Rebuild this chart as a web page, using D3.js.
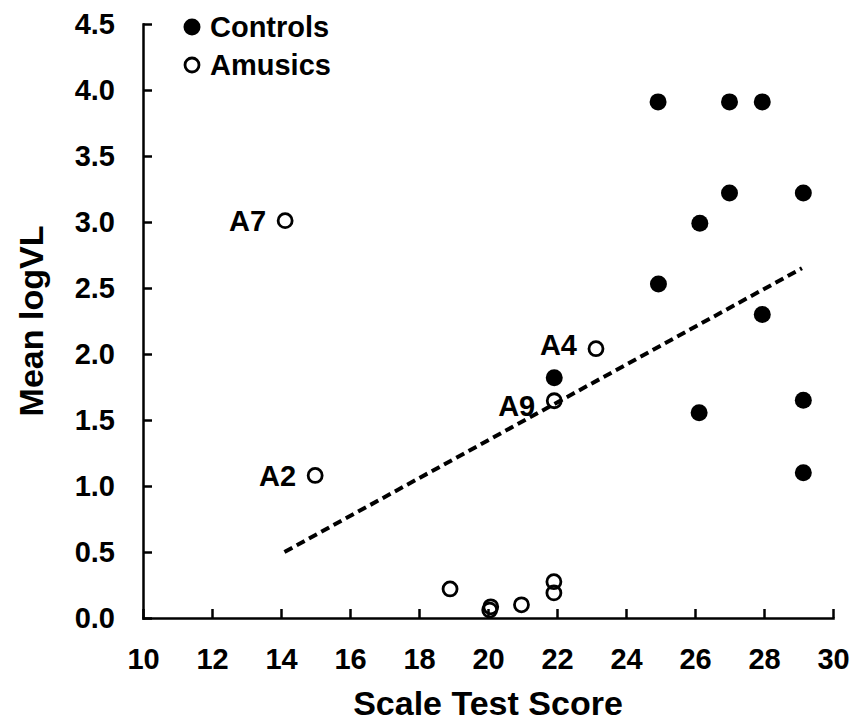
<!DOCTYPE html>
<html>
<head>
<meta charset="utf-8">
<script src="https://cdn.jsdelivr.net/npm/d3@7"></script>
<style>
  body { margin: 0; background: #fff; }
  text { font-family: "Liberation Sans", Arial, sans-serif; font-weight: bold; fill: #000; }
</style>
</head>
<body>
<div id="chart"></div>
<script>
// data
const seriesNames = ['Controls', 'Amusics'];

const controlsX = [24.93, 27.0, 27.95, 27.0, 29.14, 26.14, 24.94, 27.95, 21.92, 26.12, 29.14, 29.14];
const controlsY = [3.91, 3.91, 3.91, 3.22, 3.22, 2.99, 2.53, 2.30, 1.82, 1.555, 1.65, 1.10];

const amusicsX = [14.12, 14.99, 23.13, 21.92, 18.9, 20.08, 20.05, 20.97, 21.91, 21.91];
const amusicsY = [3.01, 1.08, 2.04, 1.646, 0.22, 0.085, 0.06, 0.10, 0.275, 0.19];
const amusicsLabel = ['A7', 'A2', 'A4', 'A9', '', '', '', '', '', ''];

const trendX = [14.1, 29.1];
const trendY = [0.50, 2.65];

const xTicks = [10, 12, 14, 16, 18, 20, 22, 24, 26, 28, 30];
const yTicks = [0, 0.5, 1, 1.5, 2, 2.5, 3, 3.5, 4, 4.5];

const xTitle = 'Scale Test Score';
const yTitle = 'Mean logVL';

function scatter() {
  const width = 855, height = 724;
  const margin = {top: 24, right: 22, bottom: 106, left: 143};

  const svg = d3.select('#chart').append('svg')
      .attr('width', width)
      .attr('height', height);

  const x = d3.scaleLinear()
      .domain([10, 30])
      .range([margin.left, width - margin.right]);

  const y = d3.scaleLinear()
      .domain([0, 4.5])
      .range([height - margin.bottom, margin.top]);

  // axes, ticks pointing inward
  svg.append('g')
      .attr('transform', `translate(0,${y(0)})`)
      .call(d3.axisBottom(x).tickValues(xTicks).tickSize(-9).tickSizeOuter(0).tickPadding(30))
      .call(g => g.selectAll('path, line').attr('stroke', '#000').attr('stroke-width', 2.5))
      .call(g => g.selectAll('text')
          .attr('font-size', 29)
          .attr('font-family', null)
          .attr('dy', '0.71em')
          .attr('y', 30));

  svg.append('g')
      .attr('transform', `translate(${x(10)},0)`)
      .call(d3.axisLeft(y).tickValues(yTicks).tickFormat(d3.format('.1f')).tickSize(-9).tickSizeOuter(0))
      .call(g => g.selectAll('path, line').attr('stroke', '#000').attr('stroke-width', 2.5))
      .call(g => g.selectAll('text')
          .attr('font-size', 29)
          .attr('font-family', null)
          .attr('x', -28));

  svg.selectAll('.domain').attr('stroke-linecap', 'square');

  // axis titles
  svg.append('text')
      .attr('x', (x(10) + x(30)) / 2)
      .attr('y', 715)
      .attr('text-anchor', 'middle')
      .attr('font-size', 34)
      .text(xTitle);

  svg.append('text')
      .attr('transform', `translate(43,${(y(0) + y(4.5)) / 2}) rotate(-90)`)
      .attr('text-anchor', 'middle')
      .attr('font-size', 34)
      .text(yTitle);

  // trend line
  const line = d3.line()
      .x(d => x(d[0]))
      .y(d => y(d[1]));

  svg.append('path')
      .datum(d3.zip(trendX, trendY))
      .attr('d', line)
      .attr('fill', 'none')
      .attr('stroke', '#000')
      .attr('stroke-width', 4)
      .attr('stroke-dasharray', '9,5');

  // controls
  svg.append('g')
    .selectAll('circle')
    .data(d3.zip(controlsX, controlsY))
    .join('circle')
      .attr('cx', d => x(d[0]))
      .attr('cy', d => y(d[1]))
      .attr('r', 8.5)
      .attr('fill', '#000');

  // amusics
  const amusics = amusicsX.map((v, i) => ({x: v, y: amusicsY[i], label: amusicsLabel[i]}));

  svg.append('g')
    .selectAll('circle')
    .data(amusics)
    .join('circle')
      .attr('cx', d => x(d.x))
      .attr('cy', d => y(d.y))
      .attr('r', 7)
      .attr('fill', 'none')
      .attr('stroke', '#000')
      .attr('stroke-width', 2.8);

  const nudge = {A4: -4, A9: 5};
  svg.append('g')
    .selectAll('text')
    .data(amusics.filter(d => d.label))
    .join('text')
      .attr('x', d => x(d.x) - 19)
      .attr('y', d => y(d.y) + (nudge[d.label] || 0))
      .attr('dy', '0.36em')
      .attr('text-anchor', 'end')
      .attr('font-size', 29)
      .text(d => d.label);

  // legend
  const legend = svg.append('g').attr('transform', 'translate(192,27)');
  legend.append('circle')
      .attr('r', 8.5)
      .attr('fill', '#000');
  legend.append('circle')
      .attr('cy', 38)
      .attr('r', 7)
      .attr('fill', 'none')
      .attr('stroke', '#000')
      .attr('stroke-width', 2.8);
  legend.selectAll('text')
    .data(seriesNames)
    .join('text')
      .attr('x', 18)
      .attr('y', (d, i) => i * 38)
      .attr('dy', '0.36em')
      .attr('font-size', 29)
      .text(d => d);
}

scatter();
</script>
</body>
</html>
